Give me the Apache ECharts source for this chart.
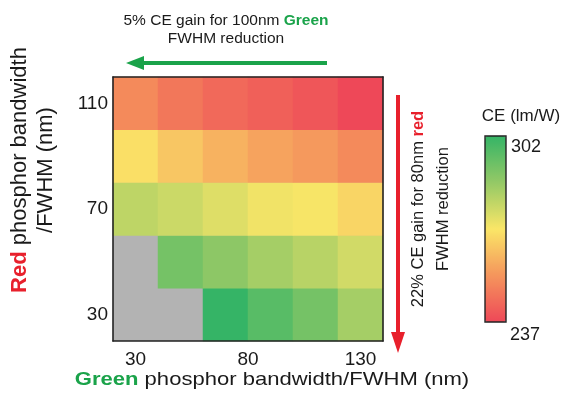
<!DOCTYPE html>
<html>
<head>
<meta charset="utf-8">
<script src="https://cdn.jsdelivr.net/npm/echarts@6/dist/echarts.min.js"></script>
<style>html,body{margin:0;padding:0;background:#fff}#c{width:573px;height:400px}</style>
</head>
<body>
<div id="c"></div>
<script>
// Green phosphor FWHM (x, nm) and red phosphor FWHM (y, nm)
const greenFWHM = [30, 50, 70, 90, 110, 130];
const redFWHM = [30, 50, 70, 90, 110];
// CE (lm/W) per row of red FWHM; null = not computed (grey)
const ceRed30  = [null, null, 302, 296, 291, 283];
const ceRed50  = [null, 291, 287, 283, 280, 276];
const ceRed70  = [279, 277, 274, 271, 270, 266];
const ceRed90  = [268, 263, 259, 256, 254, 251];
const ceRed110 = [251, 247, 244, 242, 240, 237];
const xTickLabels = [30, 80, 130];
const yTickLabels = [30, 70, 110];
const ceMin = 237, ceMax = 302;

const rows = [ceRed30, ceRed50, ceRed70, ceRed90, ceRed110];
const data = [];
rows.forEach((row, j) => row.forEach((v, i) => { if (v !== null) data.push([i, j, v]); }));

const FF = 'Liberation Sans, Arial, sans-serif';
const TXT = '#1a1a1a';
const GREEN = '#1aa34a';
const RED = '#e8202c';
const frame = { show: true, lineStyle: { color: '#222', width: 1.6 } };

const chart = echarts.init(document.getElementById('c'), null, { renderer: 'canvas' });
chart.setOption({
  animation: false,
  backgroundColor: '#fff',
  grid: { left: 113, top: 77, width: 270, height: 264, show: true, backgroundColor: '#b3b3b3', borderWidth: 0, outerBoundsMode: 'none' },
  xAxis: [
    { type: 'category', data: greenFWHM, show: false, position: 'bottom' },
    { type: 'value', min: 20, max: 140, interval: 10, position: 'bottom', z: 10,
      axisLine: frame, axisTick: { show: false }, splitLine: { show: false },
      axisLabel: { margin: 9, fontSize: 19, fontFamily: FF, color: TXT,
        formatter: v => xTickLabels.includes(v) ? String(v) : '' } },
    { type: 'value', min: 20, max: 140, interval: 10, position: 'top', z: 10,
      axisLine: frame, axisTick: { show: false }, splitLine: { show: false }, axisLabel: { show: false } }
  ],
  yAxis: [
    { type: 'category', data: redFWHM, show: false, position: 'left' },
    { type: 'value', min: 20, max: 120, interval: 10, position: 'left', z: 10,
      axisLine: frame, axisTick: { show: false }, splitLine: { show: false },
      axisLabel: { margin: 5, fontSize: 19, fontFamily: FF, color: TXT,
        formatter: v => yTickLabels.includes(v) ? String(v) : '' } },
    { type: 'value', min: 20, max: 120, interval: 10, position: 'right', z: 10,
      axisLine: frame, axisTick: { show: false }, splitLine: { show: false }, axisLabel: { show: false } }
  ],
  visualMap: {
    type: 'continuous', min: ceMin, max: ceMax, seriesIndex: 0, calculable: false,
    orient: 'vertical', left: 485, top: 136, itemWidth: 21, itemHeight: 186, padding: 0,
    hoverLink: false, showLabel: false,
    inRange: { color: ['#ee4858', '#f5955c', '#fae667', '#94c966', '#35b466'] }
  },
  series: [{
    type: 'heatmap', xAxisIndex: 0, yAxisIndex: 0, data: data,
    itemStyle: { borderWidth: 0 }, emphasis: { disabled: true }, label: { show: false }
  }],
  graphic: [
    // colour bar frame and labels
    { type: 'rect', z: 100, shape: { x: 485, y: 136, width: 21, height: 186 },
      style: { fill: 'none', stroke: '#222', lineWidth: 1.4 } },
    { type: 'text', z: 100, x: 521, y: 116,
      style: { text: 'CE (lm/W)', fontSize: 17, fontFamily: FF, fill: TXT, align: 'center', verticalAlign: 'middle' } },
    { type: 'text', z: 100, x: 511, y: 147,
      style: { text: String(ceMax), fontSize: 18, fontFamily: FF, fill: TXT, align: 'left', verticalAlign: 'middle' } },
    { type: 'text', z: 100, x: 510, y: 335,
      style: { text: String(ceMin), fontSize: 18, fontFamily: FF, fill: TXT, align: 'left', verticalAlign: 'middle' } },
    // top annotation
    { type: 'text', z: 100, x: 226, y: 30,
      style: { text: '5% CE gain for 100nm {g|Green}\nFWHM reduction', fontSize: 15.5, fontFamily: FF, fill: TXT,
        align: 'center', verticalAlign: 'middle', lineHeight: 18,
        rich: { g: { fill: GREEN, fontWeight: 'bold', fontSize: 15.5, fontFamily: FF, lineHeight: 18 } } } },
    { type: 'line', z: 100, shape: { x1: 327, y1: 63, x2: 140, y2: 63 }, style: { stroke: GREEN, lineWidth: 4 } },
    { type: 'polygon', z: 100, shape: { points: [[126, 63], [144, 56], [144, 70]] }, style: { fill: GREEN } },
    // right annotation
    { type: 'line', z: 100, shape: { x1: 398, y1: 95, x2: 398, y2: 336 }, style: { stroke: RED, lineWidth: 4 } },
    { type: 'polygon', z: 100, shape: { points: [[398, 353], [391, 332], [405, 332]] }, style: { fill: RED } },
    { type: 'text', z: 100, x: 431, y: 209, rotation: Math.PI / 2,
      style: { text: '22% CE gain for 80nm {r|red}\nFWHM reduction', fontSize: 16.5, fontFamily: FF, fill: TXT,
        align: 'center', verticalAlign: 'middle', lineHeight: 25,
        rich: { r: { fill: RED, fontWeight: 'bold', fontSize: 16.5, fontFamily: FF, lineHeight: 25 } } } },
    // axis titles
    { type: 'text', z: 100, x: 272, y: 380, scaleX: 1.16,
      style: { text: '{g|Green} phosphor bandwidth/FWHM (nm)', fontSize: 19, fontFamily: FF, fill: TXT,
        align: 'center', verticalAlign: 'middle',
        rich: { g: { fill: GREEN, fontWeight: 'bold', fontSize: 19, fontFamily: FF } } } },
    { type: 'text', z: 100, x: 33, y: 170, rotation: Math.PI / 2,
      style: { text: '{r|Red} phosphor bandwidth\n/FWHM (nm)', fontSize: 22, fontFamily: FF, fill: TXT,
        align: 'center', verticalAlign: 'middle', lineHeight: 26,
        rich: { r: { fill: RED, fontWeight: 'bold', fontSize: 22, fontFamily: FF, lineHeight: 26 } } } }
  ]
});
</script>
</body>
</html>
